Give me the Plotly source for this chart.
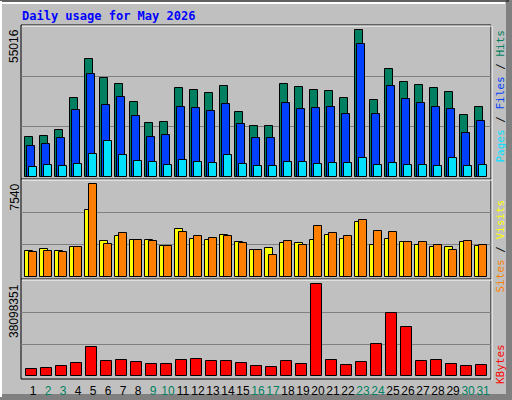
import plotly.graph_objects as go

days = list(range(1, 32))
weekend = [2, 3, 9, 10, 16, 17, 23, 24, 30, 31]

hits = [14450, 15060, 17250, 28900, 43110, 36190, 34000, 27450, 19800, 20160, 32550, 31820, 30730, 33280, 23800, 18700,
        18700, 34000, 32910, 31820, 31450, 28900, 53680, 28170, 39470, 34730, 33640, 32550, 31090, 22710, 25630]
files = [11420, 12145, 14330, 24530, 37650, 26350, 29270, 22350, 14700, 15420, 25630, 25260, 24170, 26720, 19430, 14330,
         14330, 27080, 24900, 25260, 25630, 23070, 48580, 23070, 33280, 28540, 27080, 25630, 24900, 16150, 20520]
pages = [3765, 4490, 4130, 4860, 8500, 13240, 8140, 5950, 5590, 4490, 6315, 5590, 5220, 8140, 4860, 4130,
         4130, 5590, 5590, 4860, 5220, 5220, 7040, 4490, 5220, 4490, 4490, 4130, 7040, 4130, 4490]
visits = [1983, 2140, 1983, 2296, 5192, 2766, 3157, 2844, 2844, 2374, 3705, 2922, 2844, 3235, 2687, 2061,
          2218, 2609, 2609, 2844, 3235, 2922, 4253, 2453, 2922, 2687, 2453, 2296, 2296, 2687, 2374]
sites = [1905, 1983, 1905, 2296, 7253, 2531, 3392, 2844, 2766, 2374, 3470, 3157, 3000, 3157, 2609, 2061,
         1748, 2766, 2453, 3940, 3392, 3157, 4409, 3548, 3470, 2687, 2687, 2453, 2061, 2766, 2453]
kbytes = [2.93e6, 3.33e6, 4.13e6, 5.33e6, 11.32e6, 6.13e6, 6.53e6, 5.73e6, 4.93e6, 4.93e6, 6.53e6, 6.93e6, 6.13e6,
          6.13e6, 5.33e6, 4.13e6, 3.73e6, 6.13e6, 4.93e6, 36.5e6, 6.53e6, 4.53e6, 5.73e6, 12.52e6, 24.9e6, 19.3e6,
          6.13e6, 6.53e6, 4.93e6, 4.13e6, 4.53e6]

max_top = 55016
max_mid = 7540
max_bot = 38098351

W, H = 512, 400
def px(x): return x / W
def py(y): return 1 - y / H

fig = go.Figure()
line = dict(color='black', width=1)

def bar(y, color, off, width, ax):
    fig.add_trace(go.Bar(x=days, y=y, offset=off, width=width, marker=dict(color=color, line=line),
                         xaxis=ax[0], yaxis=ax[1], showlegend=False, hoverinfo='skip'))

bar(hits, '#008060', -0.533, 0.51, ('x', 'y'))
bar(files, '#0040FF', -0.4, 0.51, ('x', 'y'))
bar(pages, '#00E0FF', -0.267, 0.51, ('x', 'y'))
bar(visits, '#FFFF00', -0.533, 0.53, ('x2', 'y2'))
bar(sites, '#FF8000', -0.267, 0.53, ('x2', 'y2'))
bar(kbytes, '#FF0000', -0.467, 0.71, ('x3', 'y3'))

xr = [0.2, 31.53]
xdom = [px(21), px(491)]
ticktext = [f"<span style='color:{'#008060' if d in weekend else 'black'}'>{d}</span>" for d in days]

def yax(top, bot, mx):
    return dict(domain=[py(bot), py(top)], range=[0, mx], dtick=mx / 3, showgrid=True, gridcolor='#808080',
                gridwidth=1, showticklabels=False, zeroline=False, ticks='', fixedrange=True)

def xax(anchor, labels):
    d = dict(domain=xdom, range=xr, anchor=anchor, showgrid=False, zeroline=False, fixedrange=True)
    if labels:
        d.update(tickvals=days, ticktext=ticktext, tickangle=0, ticks='outside', ticklen=4,
                 tickcolor='rgba(0,0,0,0)', tickfont=dict(family='Liberation Sans', size=12, color='black'))
    else:
        d.update(showticklabels=False, ticks='')
    return d

fig.update_layout(
    width=W, height=H, margin=dict(l=0, r=0, t=0, b=0),
    paper_bgcolor='#C0C0C0', plot_bgcolor='#C0C0C0', barmode='overlay', bargap=0,
    xaxis=xax('y', False), yaxis=yax(26, 177, max_top),
    xaxis2=xax('y2', False), yaxis2=yax(180, 277, max_mid),
    xaxis3=xax('y3', True), yaxis3=yax(280, 376, max_bot),
)

# frames
shapes = [
    dict(type='line', x0=px(0), x1=px(509), y0=py(1), y1=py(1), line=dict(color='black', width=1)),
    dict(type='line', x0=px(1), x1=px(1), y0=py(1), y1=py(397), line=dict(color='white', width=2)),
    dict(type='line', x0=px(1), x1=px(505), y0=py(3), y1=py(3), line=dict(color='white', width=2)),
    dict(type='rect', x0=px(506), x1=px(512), y0=py(0), y1=py(400), fillcolor='#808080', line=dict(width=0)),
    dict(type='rect', x0=px(0), x1=px(512), y0=py(394), y1=py(400), fillcolor='#808080', line=dict(width=0)),
    dict(type='rect', x0=px(21), x1=px(491), y0=py(25), y1=py(379), line=dict(color='black', width=1)),
    dict(type='line', x0=px(22), x1=px(492), y0=py(26), y1=py(26), line=dict(color='white', width=1)),
    dict(type='line', x0=px(492), x1=px(492), y0=py(26), y1=py(380), line=dict(color='white', width=1)),
    dict(type='line', x0=px(21), x1=px(491), y0=py(179), y1=py(179), line=dict(color='black', width=1)),
    dict(type='line', x0=px(22), x1=px(492), y0=py(180), y1=py(180), line=dict(color='white', width=1)),
    dict(type='line', x0=px(21), x1=px(491), y0=py(279), y1=py(279), line=dict(color='black', width=1)),
    dict(type='line', x0=px(22), x1=px(492), y0=py(280), y1=py(280), line=dict(color='white', width=1)),
]
for s in shapes:
    s.update(xref='paper', yref='paper', layer='above' if s['type'] == 'line' else 'below')
fig.update_layout(shapes=shapes)

mono = 'DejaVu Sans Mono'
ann = [
    dict(x=px(20), y=py(16), text='<b>Daily usage for May 2026</b>', xanchor='left', yanchor='middle',
         font=dict(family=mono, size=12, color='#0000FF')),
    dict(x=px(14), y=py(27), text=str(max_top), textangle=-90, xanchor='center', yanchor='top',
         font=dict(family='Liberation Sans', size=12, color='black')),
    dict(x=px(14), y=py(182), text=str(max_mid), textangle=-90, xanchor='center', yanchor='top',
         font=dict(family='Liberation Sans', size=12, color='black')),
    dict(x=px(14), y=py(282), text=str(max_bot), textangle=-90, xanchor='center', yanchor='top',
         font=dict(family='Liberation Sans', size=12, color='black')),
    dict(x=px(500), y=py(28), textangle=-90, xanchor='center', yanchor='top',
         text="<span style='color:#00E0FF'>Pages</span> / <span style='color:#0040FF'>Files</span> / "
              "<span style='color:#008060'>Hits</span>", font=dict(family=mono, size=11, color='black')),
    dict(x=px(500), y=py(198), textangle=-90, xanchor='center', yanchor='top',
         text="<span style='color:#FF8000'>Sites</span> / <span style='color:#FFFF00'>Visits</span>",
         font=dict(family=mono, size=11, color='black')),
    dict(x=px(500), y=py(342), textangle=-90, xanchor='center', yanchor='top',
         text='KBytes', font=dict(family=mono, size=11, color='#FF0000')),
]
for a in ann:
    a.update(xref='paper', yref='paper', showarrow=False)
fig.update_layout(annotations=ann)

fig.write_html("out.html", config={'displayModeBar': False},
               post_script="document.body.style.margin='0';")
